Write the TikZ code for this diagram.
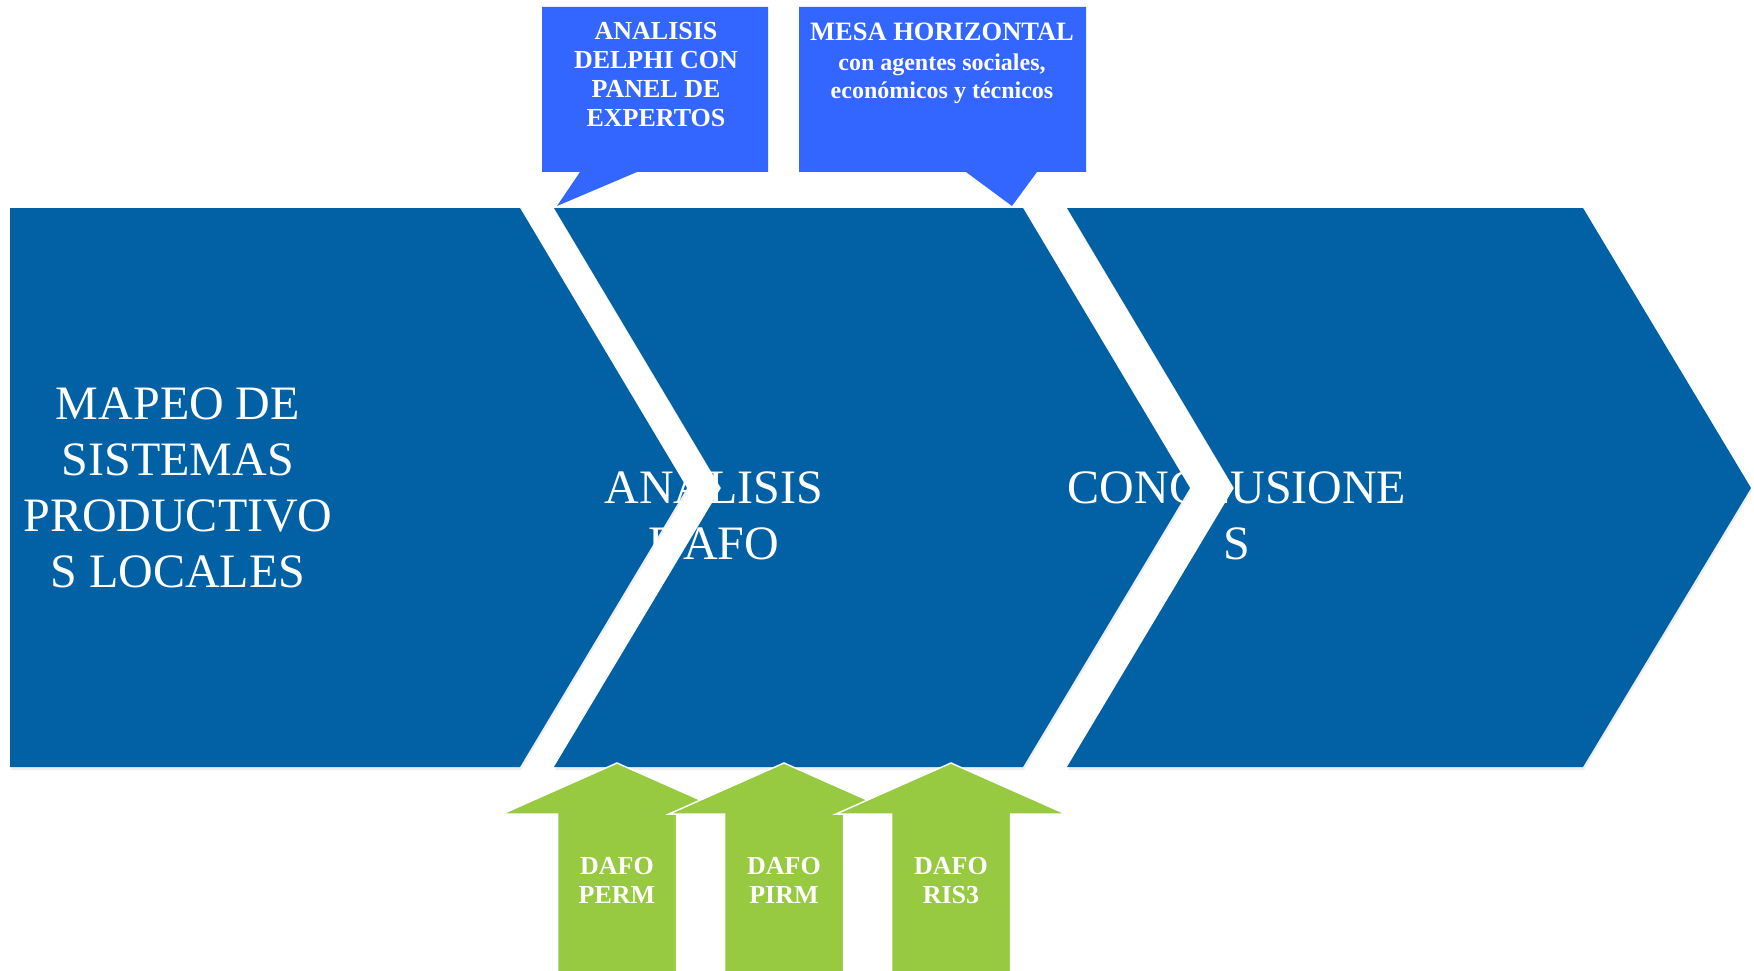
\documentclass[tikz,border=0pt]{standalone}
\usepackage{fontspec}
\setmainfont{Liberation Serif}
\usetikzlibrary{shadows}
\definecolor{chevblue}{RGB}{2,97,165}
\definecolor{callblue}{RGB}{51,102,255}
\definecolor{arrgreen}{RGB}{151,202,64}
\tikzset{
  chevron/.style={fill=chevblue, draw=none, drop shadow={shadow xshift=1pt, shadow yshift=-3pt, opacity=0.12}},
  callout/.style={fill=callblue, draw=none},
  uparrow/.style={fill=arrgreen, draw=white, line width=1.5pt, line join=miter},
  bigtext/.style={text=white, align=center, inner sep=0pt, font=\fontsize{48}{56}\selectfont},
  calltext/.style={text=white, align=center, inner sep=0pt, font=\fontsize{26}{29}\selectfont\bfseries},
  arrtext/.style={text=white, align=center, inner sep=0pt, font=\fontsize{26}{29}\selectfont\bfseries}
}
\begin{document}
\begin{tikzpicture}[x=1pt,y=-1pt]
\useasboundingbox (0,0) rectangle (1754,971);
\clip (0,0) rectangle (1754,971);
\fill[white] (0,0) rectangle (1754,971);
% chevrons
\path[chevron] (10,208) -- (520,208) -- (687,488) -- (520,767) -- (10,767) -- cycle;
\path[chevron] (554,208) -- (1023,208) -- (1190,488) -- (1023,767) -- (554,767) -- (721,488) -- cycle;
\path[chevron] (1067,208) -- (1583,208) -- (1751,488) -- (1583,767) -- (1067,767) -- (1234,488) -- cycle;
% callouts
\path[callout] (542,7) -- (768,7) -- (768,172) -- (637,172) -- (557,206) -- (580,172) -- (542,172) -- cycle;
\path[callout] (799,7) -- (1086,7) -- (1086,172) -- (1037,172) -- (1012,206) -- (966,172) -- (799,172) -- cycle;
% green arrows
\foreach \cx in {617,784,951}{
  \path[uparrow] (\cx,763) -- (\cx+115,814) -- (\cx+59.5,814) -- (\cx+59.5,985) -- (\cx-59.5,985) -- (\cx-59.5,814) -- (\cx-115,814) -- cycle;
}
% texts
\node[bigtext] (mapeo) at (178,488) {MAPEO DE\\SISTEMAS\\PRODUCTIVO\\S LOCALES};
\node[bigtext] (dafo) at (714,516) {ANALISIS\\DAFO};
\node[bigtext] (concl) at (1237,516) {CONCLUSIONE\\S};
\node[calltext] (delphi) at (656,75) {ANALISIS\\DELPHI CON\\PANEL DE\\EXPERTOS};
\node[calltext, font=\fontsize{24}{28}\selectfont\bfseries] (mesa) at (942,63) {{\fontsize{26.5}{29}\selectfont MESA HORIZONTAL}\\[2pt]con agentes sociales,\\económicos y técnicos};
\node[arrtext] (perm) at (617,880) {DAFO\\PERM};
\node[arrtext] (pirm) at (784,880) {DAFO\\PIRM};
\node[arrtext] (ris) at (951,881) {DAFO\\RIS3};
\end{tikzpicture}
\end{document}
